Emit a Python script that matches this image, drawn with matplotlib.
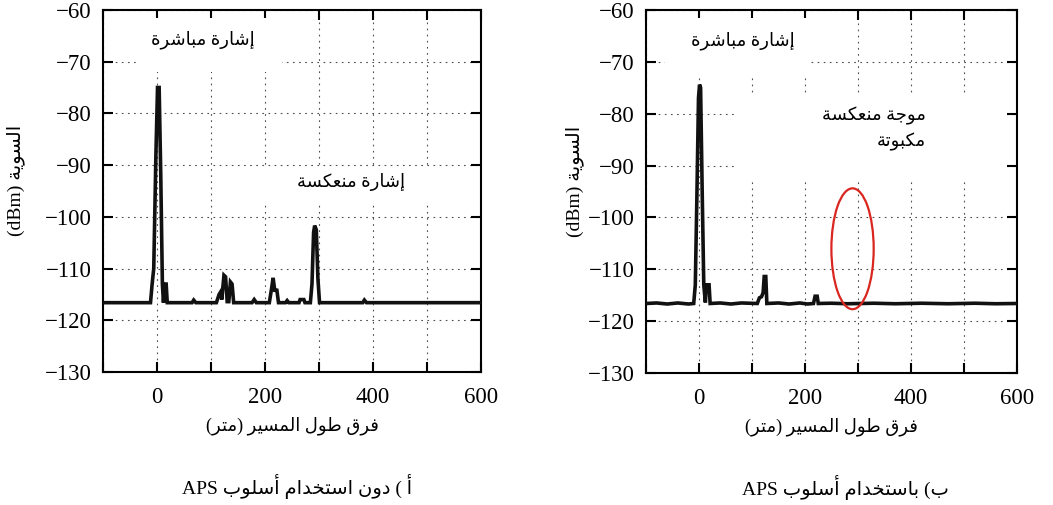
import matplotlib
matplotlib.use('Agg')
import matplotlib.pyplot as plt
from matplotlib.patches import Ellipse, Rectangle

# Data
# Left panel: without APS
left_x = [-100, -12, -9, -6, -2, 1, 4, 7, 10, 12, 14, 17, 19,
          65, 68, 72,
          110, 115, 118, 120, 124, 127, 130, 133, 136, 139, 142,
          176, 180, 184,
          208, 212, 215, 218, 222, 225, 238, 241, 244,
          263, 265, 272, 274,
          284, 287, 290, 292, 295, 298, 301,
          381, 384, 388, 600]
left_y = [-116.6, -116.6, -113, -110, -88, -75, -75, -92, -113, -116.6, -113, -113, -116.6,
          -116.6, -116.1, -116.6,
          -116.6, -115, -114.5, -116, -111.3, -111.6, -116.4, -116.4, -112.6, -113, -116.6,
          -116.6, -116, -116.6,
          -116.6, -114, -111.8, -114.2, -114.2, -116.6, -116.6, -116.2, -116.6,
          -116.6, -116, -116, -116.6,
          -116.6, -113, -103, -101.7, -102.5, -112, -116.6,
          -116.6, -116.1, -116.6, -116.6]

# Right panel: with APS
right_x = [-100, -80, -60, -40, -20, -10, -7, -4, -1, 1, 3, 6, 9, 12, 14, 19, 21,
           40, 60, 80, 110, 114, 118, 121, 123, 126, 128,
           150, 170, 190, 205, 216, 219, 223, 225,
           250, 280, 330, 370, 420, 470, 520, 560, 600]
right_y = [-116.6, -116.5, -116.7, -116.5, -116.7, -116.6, -113, -96, -77, -74.4, -75, -95, -113, -116.4, -113, -113, -116.6,
           -116.5, -116.7, -116.5, -116.6, -115.5, -115.3, -114.5, -111.4, -111.4, -116.6,
           -116.5, -116.7, -116.5, -116.7, -116.6, -115.2, -115.2, -116.6,
           -116.55, -116.65, -116.55, -116.65, -116.55, -116.65, -116.55, -116.65, -116.6]

y_ticks = [-130, -120, -110, -100, -90, -80, -70, -60]
x_major = [0, 200, 400, 600]
x_minor = [-100, 100, 300, 500]

# simple arabic shaping (matplotlib has no text shaping)
FORMS = {
    'ا': (0xFE8D, 0xFE8E, None, None),
    'أ': (0xFE83, 0xFE84, None, None),
    'إ': (0xFE87, 0xFE88, None, None),
    'ب': (0xFE8F, 0xFE90, 0xFE91, 0xFE92),
    'ة': (0xFE93, 0xFE94, None, None),
    'ت': (0xFE95, 0xFE96, 0xFE97, 0xFE98),
    'ج': (0xFE9D, 0xFE9E, 0xFE9F, 0xFEA0),
    'خ': (0xFEA5, 0xFEA6, 0xFEA7, 0xFEA8),
    'د': (0xFEA9, 0xFEAA, None, None),
    'ر': (0xFEAD, 0xFEAE, None, None),
    'س': (0xFEB1, 0xFEB2, 0xFEB3, 0xFEB4),
    'ش': (0xFEB5, 0xFEB6, 0xFEB7, 0xFEB8),
    'ط': (0xFEC1, 0xFEC2, 0xFEC3, 0xFEC4),
    'ع': (0xFEC9, 0xFECA, 0xFECB, 0xFECC),
    'ف': (0xFED1, 0xFED2, 0xFED3, 0xFED4),
    'ق': (0xFED5, 0xFED6, 0xFED7, 0xFED8),
    'ك': (0xFED9, 0xFEDA, 0xFEDB, 0xFEDC),
    'ل': (0xFEDD, 0xFEDE, 0xFEDF, 0xFEE0),
    'م': (0xFEE1, 0xFEE2, 0xFEE3, 0xFEE4),
    'ن': (0xFEE5, 0xFEE6, 0xFEE7, 0xFEE8),
    'و': (0xFEED, 0xFEEE, None, None),
    'ي': (0xFEF1, 0xFEF2, 0xFEF3, 0xFEF4),
}


def shape(word):
    out = []
    for i, ch in enumerate(word):
        if ch not in FORMS:
            out.append(ch)
            continue
        iso, fin, ini, med = FORMS[ch]
        prev = word[i - 1] if i > 0 else ''
        nxt = word[i + 1] if i + 1 < len(word) else ''
        join_prev = prev in FORMS and FORMS[prev][2] is not None
        join_next = ini is not None and nxt in FORMS
        if join_prev and join_next:
            c = med
        elif join_prev:
            c = fin
        elif join_next:
            c = ini
        else:
            c = iso
        out.append(chr(c))
    return ''.join(out)


def ar(text, mirror=True):
    s = shape(text)[::-1]
    if mirror:
        s = s.translate(str.maketrans('()', ')('))
    return s


plt.rcParams['font.family'] = ['Liberation Serif', 'DejaVu Sans']
plt.rcParams['axes.unicode_minus'] = True

fig = plt.figure(figsize=(10.53, 5.05), dpi=100)
ax1 = fig.add_axes([0.0978, 0.2634, 0.359, 0.717])
ax2 = fig.add_axes([0.6135, 0.2614, 0.3523, 0.719])

TICK_FS = 16.5
AR_FS = 13


def style_axes(ax):
    ax.set_xlim(-100, 600)
    ax.set_ylim(-130, -60)
    ax.set_xticks(x_major)
    ax.set_xticks(x_minor, minor=True)
    ax.set_yticks(y_ticks)
    ax.set_axisbelow(True)
    ax.grid(True, which='both', axis='x', color='0.3', lw=0.8, linestyle=(0, (1.5, 4)))
    ax.grid(True, which='major', axis='y', color='0.3', lw=0.8, linestyle=(0, (1.5, 4)))
    ax.tick_params(which='both', direction='in', top=True, right=True, length=7, width=1.5,
                   labelsize=TICK_FS)
    ax.tick_params(axis='x', pad=11)
    ax.tick_params(axis='y', pad=8)
    for sp in ax.spines.values():
        sp.set_linewidth(1.5)
    ax.set_ylabel('(dBm) ' + ar('السوية'), fontsize=AR_FS + 1)
    ax.set_xlabel(ar('فرق طول المسير (متر)'), fontsize=AR_FS, labelpad=6)


def mask(ax, x0, x1, y0, y1):
    # white box behind the labels (hides grid)
    ax.add_patch(Rectangle((x0, y0), x1 - x0, y1 - y0, facecolor='white', edgecolor='none', zorder=1))


# ---- left panel ----
style_axes(ax1)
ax1.yaxis.set_label_coords(-0.205, 0.528)
mask(ax1, -38, 231, -72, -61.6)
mask(ax1, 190, 510, -97.5, -90.5)
ax1.plot(left_x, left_y, color='#111111', lw=2.6, zorder=3, solid_joinstyle='miter')
ax1.text(84, -65.8, ar('إشارة مباشرة'), ha='center', va='center', fontsize=AR_FS, zorder=4)
ax1.text(360, -93.2, ar('إشارة منعكسة'), ha='center', va='center', fontsize=AR_FS, zorder=4)
ax1.text(0.817, -0.315, 'APS ' + ar('أ ) دون استخدام أسلوب'), transform=ax1.transAxes,
         ha='right', va='center', fontsize=AR_FS + 1)

# ---- right panel ----
style_axes(ax2)
ax2.yaxis.set_label_coords(-0.168, 0.528)
mask(ax2, -64, 212, -72.5, -61.6)
mask(ax2, 74, 580, -92.5, -76.5)
ax2.plot(right_x, right_y, color='#111111', lw=2.6, zorder=3, solid_joinstyle='miter')
ax2.text(83.5, -65.9, ar('إشارة مباشرة'), ha='center', va='center', fontsize=AR_FS, zorder=4)
ax2.text(429, -80.4, ar('موجة منعكسة'), ha='right', va='center', fontsize=AR_FS, zorder=4)
ax2.text(429, -85.5, ar('مكبوتة'), ha='right', va='center', fontsize=AR_FS, zorder=4)
ax2.add_patch(Ellipse((289.7, -106.05), 79.8, 23.3, fill=False, edgecolor='#d9261f', lw=1.6, zorder=5))
ax2.text(0.817, -0.315, 'APS ' + ar('ب) باستخدام أسلوب'), transform=ax2.transAxes,
         ha='right', va='center', fontsize=AR_FS + 1)

fig.savefig('out.png', dpi=100)
